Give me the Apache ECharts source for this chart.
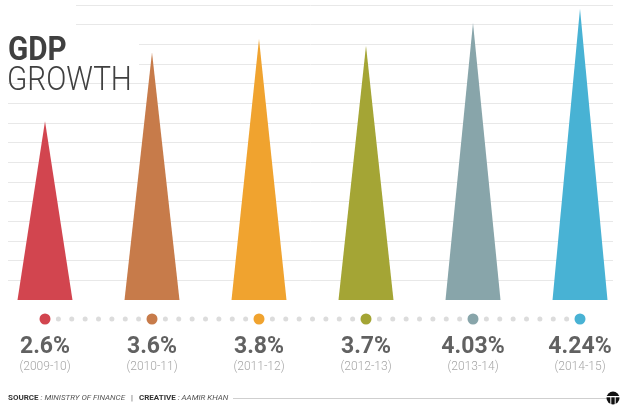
<!DOCTYPE html>
<html><head><meta charset="utf-8">
<script src="https://cdn.jsdelivr.net/npm/echarts@6/dist/echarts.min.js"></script>
<style>html,body{margin:0;padding:0;background:#fff}#c{width:625px;height:420px}</style>
</head><body><div id="c"></div>
<script>
const years = ['(2009-10)', '(2010-11)', '(2011-12)', '(2012-13)', '(2013-14)', '(2014-15)'];
const growth = [2.6, 3.6, 3.8, 3.7, 4.03, 4.24];
const growthLabels = ['2.6%', '3.6%', '3.8%', '3.7%', '4.03%', '4.24%'];
const palette = ['#d2454f', '#c77b4a', '#f0a32f', '#a4a535', '#88a5aa', '#48b2d4'];

const X_MIN = -0.3458, X_MAX = 5.3084;
const chart = echarts.init(document.getElementById('c'), null, {renderer: 'canvas'});

const smallDots = [];
for (let k = 0; k <= (years.length - 1) * 8; k++) { if (k % 8) smallDots.push([k / 8, 19]); }

const option = {
  animation: false,
  backgroundColor: '#fff',
  grid: [
    {left: 8, top: 5, width: 605, height: 295},
    {left: 8, top: 300, width: 605, height: 80}
  ],
  xAxis: [
    {type: 'value', min: X_MIN, max: X_MAX, show: false, gridIndex: 0},
    {type: 'value', min: X_MIN, max: X_MAX, show: false, gridIndex: 1}
  ],
  yAxis: [
    {type: 'value', min: 0, max: 4.293, show: false, gridIndex: 0},
    {type: 'value', min: 0, max: 15, interval: 1, gridIndex: 0,
      axisLine: {show: false}, axisTick: {show: false}, axisLabel: {show: false},
      splitLine: {show: true, showMinLine: false, lineStyle: {color: '#e8e8e8', width: 1}}},
    {type: 'value', min: 0, max: 80, inverse: true, show: false, gridIndex: 1}
  ],
  series: [
    {
      type: 'custom', xAxisIndex: 0, yAxisIndex: 0, clip: false, z: 5,
      data: growth.map((v, i) => [i, v]),
      renderItem: (params, api) => {
        const i = api.value(0), v = api.value(1);
        const top = api.coord([i, v]);
        const base = api.coord([i, 0]);
        const hw = api.size([1, 0])[0] * 0.257;
        return {
          type: 'polygon',
          shape: {points: [[base[0] - hw, base[1]], [top[0], top[1]], [base[0] + hw, base[1]]]},
          style: {fill: palette[i]}
        };
      }
    },
    {
      type: 'scatter', xAxisIndex: 1, yAxisIndex: 2, symbolSize: 5, silent: true,
      itemStyle: {color: '#dcdcdc', opacity: 1},
      data: smallDots
    },
    {
      type: 'scatter', xAxisIndex: 1, yAxisIndex: 2, symbolSize: 11, silent: true,
      data: growth.map((v, i) => ({value: [i, 19], itemStyle: {color: palette[i], opacity: 1}}))
    },
    {
      type: 'scatter', xAxisIndex: 1, yAxisIndex: 2, symbolSize: 0, silent: true,
      data: growthLabels.map((t, i) => [i, 47]),
      label: {show: true, position: 'inside', formatter: p => growthLabels[p.dataIndex],
        fontFamily: 'Roboto', fontWeight: 'bold', fontSize: 23, color: '#3a3a3a'}
    },
    {
      type: 'scatter', xAxisIndex: 1, yAxisIndex: 2, symbolSize: 0, silent: true,
      data: years.map((t, i) => [i, 66.5]),
      label: {show: true, position: 'inside', formatter: p => years[p.dataIndex],
        fontFamily: 'Roboto', fontWeight: 300, fontSize: 12, color: '#8e8e8e'}
    }
  ],
  graphic: [
    {type: 'rect', z: 10, shape: {x: 0, y: 0, width: 76, height: 31}, style: {fill: '#fff'}},
    {type: 'rect', z: 10, shape: {x: 0, y: 31, width: 139, height: 40}, style: {fill: '#fff'}},
    {type: 'text', z: 11, x: 8, y: 35, scaleX: 0.9,
      style: {text: 'GDP', font: 'bold 33px Roboto', fill: '#404040', textVerticalAlign: 'alphabetic'}},
    {type: 'text', z: 11, x: 7, y: 65, scaleX: 0.9,
      style: {text: 'GROWTH', font: '300 33px Roboto', fill: '#404040', textVerticalAlign: 'alphabetic'}},
    {type: 'text', z: 11, x: 8, y: 398,
      style: {
        text: '{b|SOURCE}{i| : MINISTRY OF FINANCE}{n|   |   }{b|CREATIVE}{i| : AAMIR KHAN}',
        textVerticalAlign: 'middle',
        rich: {
          b: {fontFamily: 'Roboto', fontWeight: 'bold', fontSize: 8, fill: '#333'},
          i: {fontFamily: 'Roboto', fontStyle: 'italic', fontSize: 8, fill: '#555'},
          n: {fontFamily: 'Roboto', fontSize: 8, fill: '#555'}
        }
      }},
    {type: 'line', z: 11, shape: {x1: 233, y1: 398.5, x2: 607, y2: 398.5}, style: {stroke: '#cfcfcf', lineWidth: 1}},
    {type: 'circle', z: 11, shape: {cx: 613, cy: 398, r: 6.5}, style: {fill: '#111'}},
    {type: 'rect', z: 12, shape: {x: 606, y: 396, width: 14, height: 1.3}, style: {fill: '#fff'}},
    {type: 'rect', z: 12, shape: {x: 610.3, y: 397, width: 1, height: 8}, style: {fill: '#fff'}},
    {type: 'rect', z: 12, shape: {x: 614.7, y: 397, width: 1, height: 8}, style: {fill: '#fff'}}
  ]
};
chart.setOption(option);
</script>
</body></html>
